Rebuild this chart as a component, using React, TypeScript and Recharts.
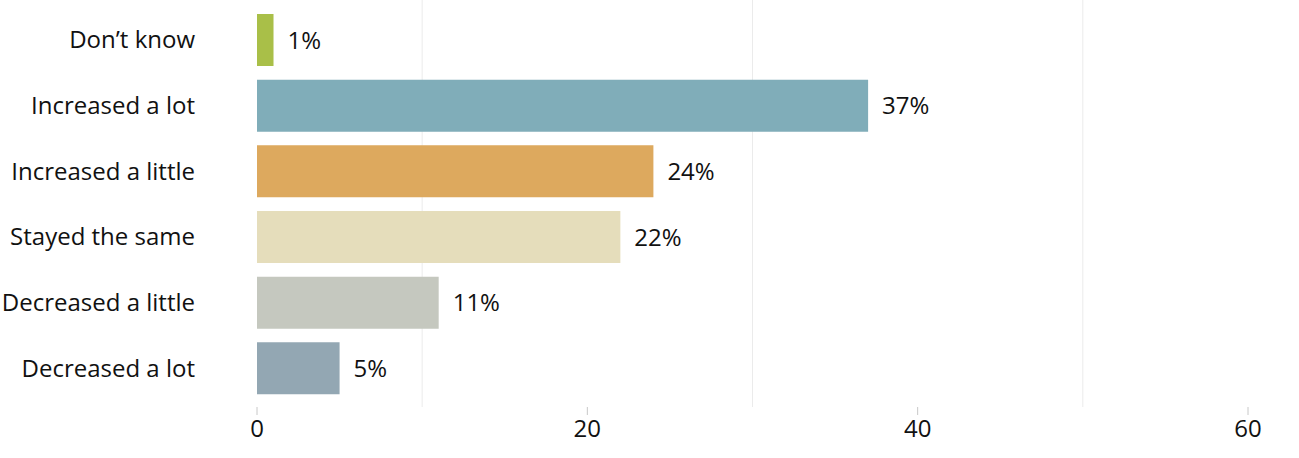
import React from 'react';
import { BarChart, Bar, XAxis, YAxis, Cell, LabelList, ReferenceLine } from 'recharts';

const categories = ["Don’t know", 'Increased a lot', 'Increased a little', 'Stayed the same', 'Decreased a little', 'Decreased a lot'];
const values = [1, 37, 24, 22, 11, 5];
const colors = ['#a9bf48', '#80adb9', '#dda95e', '#e5ddbb', '#c5c8bf', '#93a7b3'];
const xTicks = [0, 20, 40, 60];
const gridValues = [10, 30, 50];

const data = categories.map((c, i) => ({ name: c, value: values[i] }));

const font = "'Open Sans', sans-serif";

export default function App() {
  return (
    <div style={{ position: 'absolute', left: 0, top: 0, fontFamily: font }}>
      <BarChart
        width={1299}
        height={458}
        data={data}
        layout="vertical"
        margin={{ top: 0, right: 51, bottom: 0, left: 0 }}
        barSize={52}
      >
        {gridValues.map((g) => (
          <ReferenceLine key={g} x={g} stroke="#ebebeb" strokeWidth={1} {...({ zIndex: -100 } as any)} />
        ))}
        <XAxis
          type="number"
          domain={[0, 60]}
          ticks={xTicks}
          axisLine={false}
          tickSize={8}
          tickMargin={5}
          tickLine={{ stroke: '#c8c8c8' }}
          height={51}
          tick={{ fontSize: 24, fill: '#111', fontFamily: font }}
        />
        <YAxis
          type="category"
          dataKey="name"
          width={257}
          axisLine={false}
          tickLine={false}
          tickSize={0}
          tickMargin={62}
          padding={{ top: 7, bottom: 6 }}
          tick={{ fontSize: 24, fill: '#111', fontFamily: font }}
        />
        <Bar dataKey="value" isAnimationActive={false}>
          {data.map((d, i) => (
            <Cell key={d.name} fill={colors[i]} />
          ))}
          <LabelList
            dataKey="value"
            position="right"
            offset={14}
            formatter={(v: number) => `${v}%`}
            style={{ fontSize: 24, fill: '#111', fontFamily: font }}
          />
        </Bar>
      </BarChart>
    </div>
  );
}
